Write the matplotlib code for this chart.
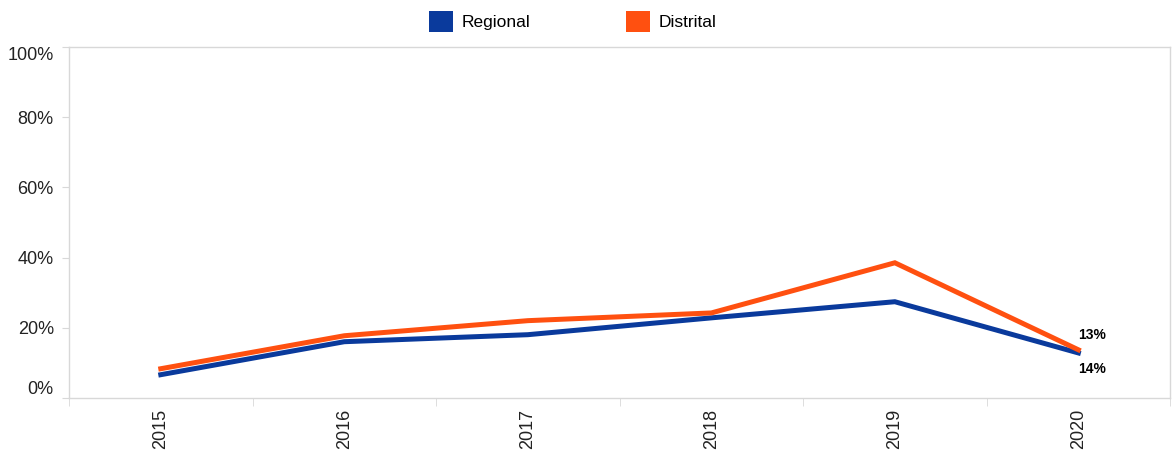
import matplotlib.pyplot as plt
from matplotlib.patches import Patch

plt.rcParams['font.family'] = ['Liberation Sans', 'DejaVu Sans']

# data
years = ['2015', '2016', '2017', '2018', '2019', '2020']
regional = [6.6, 16.0, 18.0, 22.8, 27.4, 12.8]
distrital = [8.3, 17.7, 22.0, 24.2, 38.5, 13.7]
yticks = [0, 20, 40, 60, 80, 100]
end_labels = ['13%', '14%']

blue = '#0a3a9c'
orange = '#ff5010'
grey = '#d8d8d8'

fig = plt.figure(figsize=(11.76, 4.61), dpi=100)
ax = fig.add_axes([0.0587, 0.137, 0.9363, 0.761])

x = list(range(len(years)))
ax.plot(x, regional, color=blue, lw=3.6, solid_joinstyle='miter', zorder=3)
ax.plot(x, distrital, color=orange, lw=3.6, solid_joinstyle='miter', zorder=3)

ax.set_xlim(-0.5, len(years) - 0.5)
ax.set_ylim(0, 100)

ax.set_yticks(yticks)
ax.set_yticklabels([str(v) + '%' for v in yticks], fontsize=13, color='#222222')
labs = ax.get_yticklabels()
labs[0].set_va('bottom')
labs[-1].set_va('top')

ax.set_xticks(x)
ax.set_xticklabels(years, rotation=90, fontsize=13, color='#222222')
ax.tick_params(axis='x', length=0, pad=8)
ax.set_xticks([i - 0.5 for i in range(len(years) + 1)], minor=True)
ax.tick_params(axis='x', which='minor', length=6, color=grey)
ax.tick_params(axis='y', length=5, color=grey, pad=6)

for s in ax.spines.values():
    s.set_color(grey)
    s.set_linewidth(1)

# labels at the last point
ax.text(x[-1], distrital[-1] + 2.2, end_labels[0], fontsize=10, fontweight='bold', ha='left', va='bottom')
ax.text(x[-1], regional[-1] - 2.5, end_labels[1], fontsize=10, fontweight='bold', ha='left', va='top')

handles = [Patch(facecolor=blue, label='Regional'), Patch(facecolor=orange, label='Distrital')]
fig.legend(handles=handles, loc='upper center', bbox_to_anchor=(0.487, 1.01), ncol=2, frameon=False,
           fontsize=12.5, handlelength=1.4, handleheight=1.5, columnspacing=5.5, handletextpad=0.5)

plt.savefig('out.png')
